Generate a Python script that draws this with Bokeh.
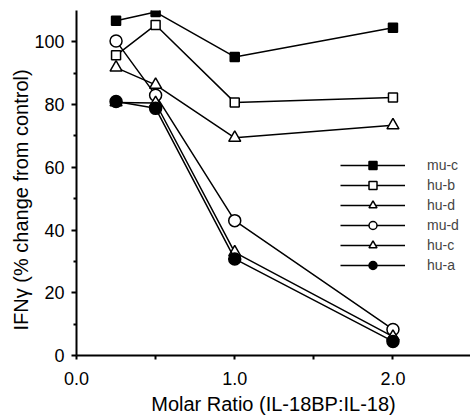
from bokeh.plotting import figure
from bokeh.models import (Range1d, FixedTicker, NumeralTickFormatter, Legend, LegendItem, Title)
from bokeh.embed import file_html
from bokeh.resources import INLINE

ratio = [0.25, 0.5, 1.0, 2.0]
mu_c = [106.7, 109.5, 95.2, 104.5]
hu_b = [95.7, 105.4, 80.7, 82.3]
hu_d = [91.8, 86.3, 69.4, 73.4]
mu_d = [100.3, 83.0, 43.0, 8.3]
hu_c = [80.7, 80.5, 32.9, 6.0]
hu_a = [81.0, 78.8, 30.8, 4.5]

series = [
    ("mu-c", mu_c, "square", "black", 9),
    ("hu-b", hu_b, "square", "white", 9),
    ("hu-d", hu_d, "triangle", "white", 12),
    ("mu-d", mu_d, "circle", "white", 12),
    ("hu-c", hu_c, "triangle", "white", 12),
    ("hu-a", hu_a, "circle", "black", 12),
]

FONT = "Liberation Sans"

p = figure(width=470, height=420, output_backend="svg", toolbar_location=None,
           x_range=Range1d(0, 2.49), y_range=Range1d(0, 110),
           min_border_left=76, min_border_right=0, min_border_top=10, min_border_bottom=65)
p.outline_line_color = None
p.xgrid.visible = False
p.ygrid.visible = False
p.background_fill_color = "white"

items = []
for name, vals, marker, fill, size in series:
    r1 = p.line(ratio, vals, line_color="black", line_width=1.5)
    r2 = p.scatter(ratio, vals, marker=marker, size=size, fill_color=fill,
                   line_color="black", line_width=1.5)
    items.append(LegendItem(label=name, renderers=[r1, r2]))

legend = Legend(items=items, location=(264, 80), padding=0, margin=0, spacing=0,
                glyph_width=65, glyph_height=20, label_height=20, label_standoff=22,
                label_text_font=FONT, label_text_font_size="14px",
                border_line_color=None, background_fill_alpha=0)
p.add_layout(legend, "center")

xa = p.xaxis[0]
xa.ticker = FixedTicker(ticks=[0, 1, 2], minor_ticks=[0.5, 1.5])
xa.formatter = NumeralTickFormatter(format="0.0")
xa.axis_label = "Molar Ratio (IL-18BP:IL-18)"
ya = p.yaxis[0]
ya.ticker = FixedTicker(ticks=[0, 20, 40, 60, 80, 100], minor_ticks=[10, 30, 50, 70, 90])

ylab = Title(text="IFN\u03b3 (% change from control)", align="left", offset=25,
             text_font=FONT, text_font_size="20px", text_font_style="normal",
             text_color="black", standoff=0)
p.add_layout(ylab, "left")

for ax in (xa, ya):
    ax.axis_line_width = 2
    ax.axis_line_color = "black"
    ax.major_tick_in = 0
    ax.minor_tick_in = 0
    ax.major_tick_line_width = 2
    ax.minor_tick_line_width = 2
    ax.major_label_text_font = FONT
    ax.major_label_text_font_size = "18px"
    ax.major_label_text_color = "black"
    ax.axis_label_text_font = FONT
    ax.axis_label_text_font_size = "20px"
    ax.axis_label_text_font_style = "normal"
    ax.axis_label_text_color = "black"

xa.major_tick_out = 4
xa.minor_tick_out = 4
xa.major_label_standoff = 12
xa.axis_label_standoff = 5
ya.major_tick_out = 5
ya.minor_tick_out = 3
ya.major_label_standoff = 7

open("out.html", "w").write(file_html(p, INLINE))
